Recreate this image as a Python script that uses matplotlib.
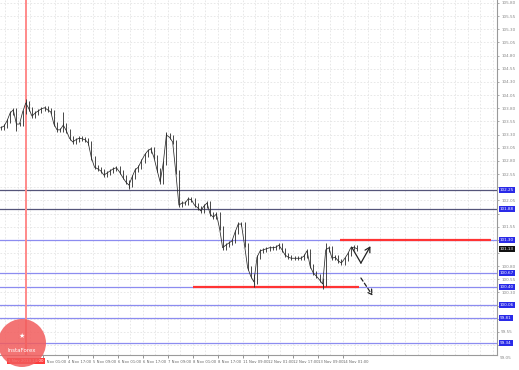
import matplotlib
matplotlib.use("Agg")
import matplotlib.pyplot as plt
import numpy as np
from matplotlib.patches import Ellipse
from matplotlib.transforms import blended_transform_factory

# ---------------- data ----------------
start_bar = 1
bar_step = 2
close = [103.43, 103.46, 103.56, 103.71, 103.77, 103.50, 103.50, 103.73, 103.90, 103.79,
         103.65, 103.71, 103.75, 103.79, 103.81, 103.77, 103.73, 103.50, 103.39, 103.39,
         103.48, 103.37, 103.23, 103.16, 103.20, 103.23, 103.22, 103.20, 103.14, 102.86,
         102.68, 102.65, 102.61, 102.53, 102.57, 102.61, 102.65, 102.67, 102.59, 102.49,
         102.40, 102.34, 102.49, 102.63, 102.68, 102.80, 102.91, 102.99, 103.03, 102.87,
         102.63, 102.40, 102.76, 103.29, 103.25, 103.16, 102.59, 101.96, 102.00, 102.00,
         102.08, 102.06, 101.96, 101.91, 101.85, 101.94, 102.00, 101.79, 101.73, 101.79,
         101.52, 101.15, 101.20, 101.24, 101.28, 101.45, 101.60, 101.60, 101.20, 100.77,
         100.61, 100.50, 100.97, 101.09, 101.11, 101.13, 101.15, 101.15, 101.16, 101.20,
         101.11, 101.01, 100.97, 100.95, 100.95, 100.95, 100.95, 100.99, 101.09, 100.80,
         100.67, 100.61, 100.54, 100.46, 101.11, 101.15, 100.95, 100.97, 100.90, 100.86,
         100.94, 101.03, 101.15, 101.16, 101.13]
bars = np.arange(start_bar, start_bar + bar_step * len(close), bar_step)

# isolated wicks (sample index, extreme price)
spike_idx = [5, 8, 20, 41, 53, 81, 103, 104]
spike_val = [103.36, 103.98, 103.73, 102.27, 103.35, 100.40, 100.37, 101.24]

# horizontal levels
level_prices = [102.25, 101.88, 101.30, 100.67, 100.40, 100.06, 99.81, 99.34]
level_dark = [True, True, False, False, False, False, False, False]

# red support / resistance segments (start bar, end bar, price)
red_start = [218, 124]
red_end = [315, 230]
red_price = [101.30, 100.40]

vline_bar = 17
vline_label = "1 Nov 2013 14:00"
current_price = 101.13

# forecast arrows
solid_x = [225.8, 231.5, 237.6]
solid_y = [101.15, 100.86, 101.18]
dash_x = [231.5, 239.0]
dash_y = [100.575, 100.24]

xtick_bars = [28, 44, 60, 76, 92, 108, 124, 140, 156, 172, 188, 204, 220]
xtick_labels = ["4 Nov 01:00", "4 Nov 17:00", "5 Nov 09:00", "6 Nov 01:00",
                "6 Nov 17:00", "7 Nov 09:00", "8 Nov 01:00", "8 Nov 17:00", "11 Nov 09:00",
                "12 Nov 01:00", "12 Nov 17:00", "13 Nov 09:00", "14 Nov 01:00"]

ytick_vals = [105.80, 105.55, 105.30, 105.05, 104.80, 104.55, 104.30, 104.05, 103.80,
              103.55, 103.30, 103.05, 102.80, 102.55, 102.30, 102.05, 101.80, 101.55,
              101.30, 101.05, 100.80, 100.55, 100.30, 100.05, 99.80, 99.55, 99.30, 99.05]

# ---------------- figure ----------------
W, H = 519, 370
fig = plt.figure(figsize=(W / 100, H / 100), dpi=100)
fig.patch.set_facecolor("white")
ax = fig.add_axes([0, 15 / H, 497 / W, 1 - 15 / H])
ax.set_facecolor("white")

ymin, ymax = 99.112, 105.857
ax.set_ylim(ymin, ymax)
ax.set_xlim(0.5, 318.6)

# grid
for v in ytick_vals:
    ax.axhline(v, color="#e4e4e4", lw=0.6, ls=(0, (2, 2)), zorder=0)
for b in np.arange(4, 320, 8):
    ax.axvline(b, color="#e4e4e4", lw=0.6, ls=(0, (2, 2)), zorder=0)

# levels
for p, dark in zip(level_prices, level_dark):
    ax.axhline(p, color="#55557a" if dark else "#8c8cf0", lw=0.9, zorder=1)

# red vertical line
ax.axvline(vline_bar, color="#ff8a8a", lw=1.4, zorder=1)

# red segments
for s, e, p in zip(red_start, red_end, red_price):
    ax.plot([s, e], [p, p], color="#ff3333", lw=1.6, zorder=2, solid_capstyle="butt")

# price bars
close_arr = np.array(close)
prev = np.r_[close_arr[0], close_arr[:-1]]
lo = np.minimum(close_arr, prev) - 0.035
hi = np.maximum(close_arr, prev) + 0.035
ax.vlines(bars, lo, hi, color="#2a2a2a", lw=0.6, zorder=3)
ax.plot(bars, close_arr, color="#2a2a2a", lw=0.55, zorder=3)
for i, v in zip(spike_idx, spike_val):
    ax.vlines(bars[i], min(v, close[i]), max(v, close[i]), color="#2a2a2a", lw=0.6, zorder=3)

# forecast arrows
ax.plot(solid_x[:2], solid_y[:2], color="#222222", lw=0.9, zorder=4)
ax.annotate("", xy=(solid_x[2], solid_y[2]), xytext=(solid_x[1], solid_y[1]),
            arrowprops=dict(arrowstyle="->,head_length=0.35,head_width=0.2", color="#222222",
                            lw=0.9, shrinkA=0, shrinkB=0), zorder=4)
ax.annotate("", xy=(dash_x[1], dash_y[1]), xytext=(dash_x[0], dash_y[0]),
            arrowprops=dict(arrowstyle="->,head_length=0.35,head_width=0.2", color="#222222",
                            lw=0.9, ls=(0, (3, 2)), shrinkA=0, shrinkB=0), zorder=4)

# axes styling
for s in ["top", "left"]:
    ax.spines[s].set_visible(False)
ax.spines["right"].set_color("#9a9a9a")
ax.spines["bottom"].set_color("#9a9a9a")
ax.spines["right"].set_linewidth(0.8)
ax.spines["bottom"].set_linewidth(0.8)

highlight = level_prices + [current_price]
ax.yaxis.tick_right()
yt = [v for v in ytick_vals if ymin <= v <= ymax]
ax.set_yticks(yt)
ax.set_yticklabels(["" if min(abs(v - h) for h in highlight) < 0.09 else f"{v:.2f}" for v in yt])
ax.tick_params(axis="y", length=1.5, width=0.5, pad=1.5, labelsize=3.0,
               colors="#888888", direction="out")
ax.set_xticks(xtick_bars)
ax.set_xticklabels(xtick_labels)
ax.tick_params(axis="x", length=2, width=0.5, pad=1.5, labelsize=2.7,
               colors="#666666", direction="out")
for lbl in ax.get_xticklabels():
    lbl.set_ha("left")

tr = blended_transform_factory(ax.transAxes, ax.transData)
# bottom-most label below plot
ax.text(1.006, 99.05, "99.05", transform=tr, fontsize=3.0, color="#888888",
        va="center", ha="left", clip_on=False)

# highlighted price labels
for p in level_prices:
    ax.text(1.006, p, f"{p:.2f}", transform=tr, fontsize=3.0, color="white", va="center",
            ha="left", clip_on=False, zorder=6,
            bbox=dict(boxstyle="square,pad=0.25", fc="#2a2ae8", ec="none"))
ax.text(1.006, current_price, f"{current_price:.2f}", transform=tr, fontsize=3.0,
        color="white", va="center", ha="left", clip_on=False, zorder=6,
        bbox=dict(boxstyle="square,pad=0.25", fc="#111111", ec="none"))

# vertical line date label
trx = blended_transform_factory(ax.transData, ax.transAxes)
ax.text(vline_bar, -0.012, vline_label, transform=trx, fontsize=2.9, color="white",
        ha="center", va="top", clip_on=False, zorder=7,
        bbox=dict(boxstyle="square,pad=0.3", fc="#ff3b3b", ec="none"))

# watermark logo
logo = Ellipse((22 / W, 1 - 343 / H), 48 / W, 48 / H, transform=fig.transFigure,
               fc="#f25c5c", ec="none", alpha=0.85, zorder=10)
fig.patches.append(logo)
fig.text(22 / W, 1 - 350 / H, "InstaForex", fontsize=4.0, color="white", ha="center",
         va="center", zorder=11)
fig.text(22 / W, 1 - 336 / H, "\u2605", fontsize=5, color="white", ha="center",
         va="center", zorder=11)

fig.savefig("out.png", dpi=100, facecolor="white")
